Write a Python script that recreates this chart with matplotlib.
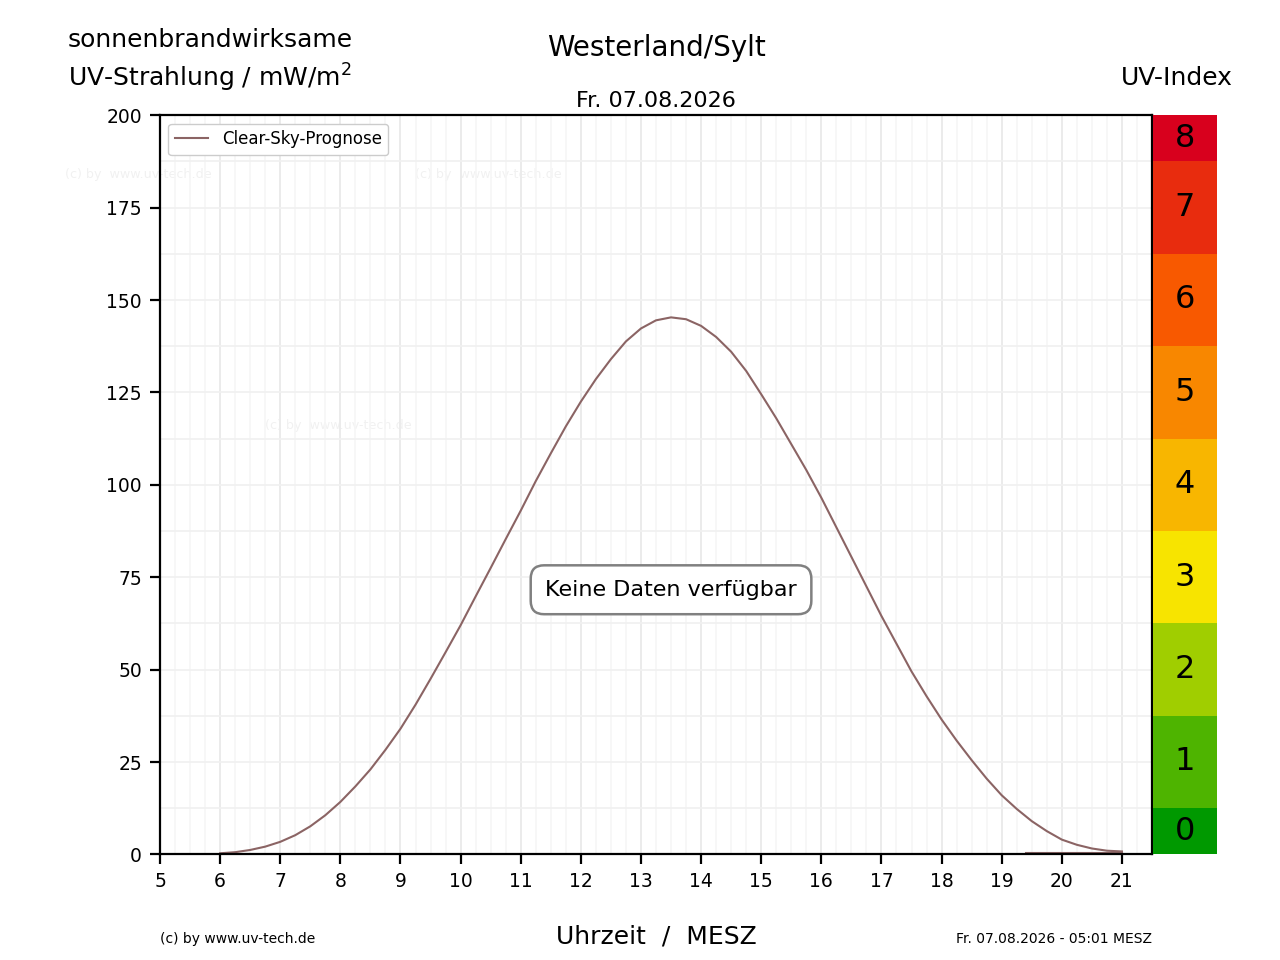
import matplotlib
matplotlib.use("Agg")
import matplotlib.pyplot as plt
from matplotlib.ticker import MultipleLocator

# Clear-sky forecast, quarter-hour steps (mW/m^2)
hours = [6.0, 6.25, 6.5, 6.75, 7.0, 7.25, 7.5, 7.75, 8.0, 8.25, 8.5, 8.75,
         9.0, 9.25, 9.5, 9.75, 10.0, 10.25, 10.5, 10.75, 11.0, 11.25, 11.5, 11.75,
         12.0, 12.25, 12.5, 12.75, 13.0, 13.25, 13.5, 13.75, 14.0, 14.25, 14.5, 14.75,
         15.0, 15.25, 15.5, 15.75, 16.0, 16.25, 16.5, 16.75, 17.0, 17.25, 17.5, 17.75,
         18.0, 18.25, 18.5, 18.75, 19.0, 19.25, 19.5, 19.75, 20.0, 20.25, 20.5, 20.75, 21.0]
clear_sky = [0.3, 0.6, 1.2, 2.1, 3.4, 5.2, 7.6, 10.6, 14.2, 18.4, 23.0, 28.3,
             34.0, 40.5, 47.5, 54.7, 62.0, 69.8, 77.5, 85.3, 93.0, 101.0, 108.5, 115.8,
             122.5, 128.6, 134.0, 138.8, 142.3, 144.5, 145.3, 144.8, 143.0, 140.0, 136.0, 130.8,
             124.5, 118.0, 111.0, 104.0, 96.5, 88.5, 80.5, 72.5, 64.5, 57.0, 49.5, 42.8,
             36.5, 30.8, 25.5, 20.5, 16.0, 12.3, 9.0, 6.3, 4.0, 2.6, 1.6, 1.0, 0.8]
# flat zero line at the end of the day
zero_hours = [19.4, 21.0]
zero_vals = [0.3, 0.3]

uv_levels = [0, 1, 2, 3, 4, 5, 6, 7, 8]
uv_colors = ['#009900', '#4eb400', '#a0ce00', '#f7e400', '#f8b600',
             '#f88700', '#f85900', '#e82c0e', '#d8001d']

line_col = '#8b6464'

fig = plt.figure(figsize=(12.8, 9.6), dpi=100)
ax = fig.add_axes([0.125, 0.11, 0.775, 0.77])

ax.plot(hours, clear_sky, color=line_col, lw=1.5, label='Clear-Sky-Prognose')
ax.plot(zero_hours, zero_vals, color=line_col, lw=1.5)

ax.set_xlim(5, 21.5)
ax.set_ylim(0, 200)
ax.xaxis.set_major_locator(MultipleLocator(1))
ax.xaxis.set_minor_locator(MultipleLocator(0.25))
ax.yaxis.set_major_locator(MultipleLocator(25))
ax.yaxis.set_minor_locator(MultipleLocator(12.5))
ax.tick_params(axis='both', which='major', labelsize=13.5, length=7, width=1.6, pad=6)
ax.tick_params(axis='both', which='minor', length=0)
ax.grid(True, which='major', axis='x', color='#ebebeb', lw=1.4)
ax.grid(True, which='minor', axis='x', color='#f6f6f6', lw=1.2)
ax.grid(True, which='both', axis='y', color='#f0f0f0', lw=1.2)
ax.set_axisbelow(True)
for s in ax.spines.values():
    s.set_linewidth(1.6)

ax.legend(loc='upper left', fontsize=12, framealpha=1, edgecolor='#cccccc',
          fancybox=True, handlelength=2.0, borderpad=0.4)

# faint watermarks
for wx, wy in [(3.42, 184), (9.24, 184), (6.75, 116)]:
    ax.text(wx, wy, '(c) by  www.uv-tech.de', fontsize=9.2, color='#f1f1f1',
            ha='left', va='center', zorder=0, clip_on=False)

ax.text(13.5, 71.6, 'Keine Daten verfügbar', fontsize=16, ha='center', va='center',
        bbox=dict(boxstyle='round,pad=0.65,rounding_size=0.6', fc='white', ec='gray', lw=1.8))

ax.set_xlabel('Uhrzeit  /  MESZ', fontsize=18, labelpad=24)
ax.set_title('Fr. 07.08.2026', fontsize=16, pad=6)

# UV index scale on the right
cax = fig.add_axes([0.9008, 0.11, 0.05, 0.77])
for lev, col in zip(uv_levels, uv_colors):
    lo = max(0, (lev - 0.5) * 25)
    hi = min(200, (lev + 0.5) * 25)
    cax.axhspan(lo, hi, color=col, lw=0)
    cax.text(0.5, (lo + hi) / 2, str(lev), fontsize=23, ha='center', va='center')
cax.set_xlim(0, 1)
cax.set_ylim(0, 200)
cax.axis('off')

fig.text(0.164, 0.958, 'sonnenbrandwirksame', fontsize=18, ha='center', va='center')
fig.text(0.164, 0.919, 'UV-Strahlung / mW/m$^2$', fontsize=18, ha='center', va='center')
fig.text(0.513, 0.950, 'Westerland/Sylt', fontsize=20, ha='center', va='center')
fig.text(0.919, 0.919, 'UV-Index', fontsize=18, ha='center', va='center')
fig.text(0.125, 0.022, '(c) by www.uv-tech.de', fontsize=10, ha='left', va='center')
fig.text(0.9, 0.022, 'Fr. 07.08.2026 - 05:01 MESZ', fontsize=10, ha='right', va='center')

fig.savefig('out.png', dpi=100)
